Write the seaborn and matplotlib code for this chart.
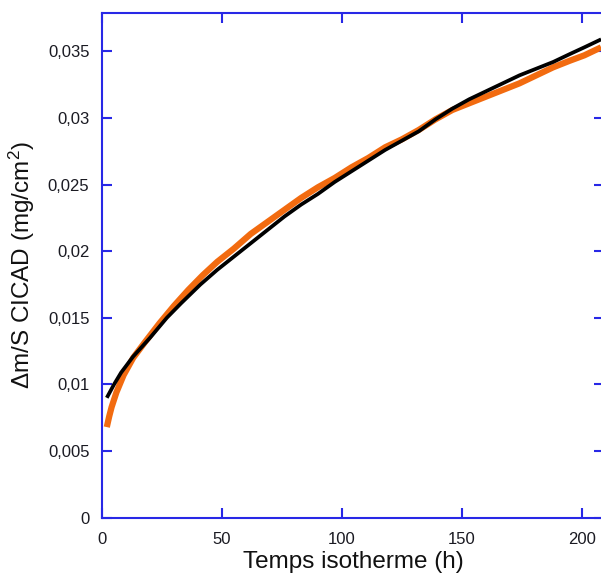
import matplotlib
matplotlib.use("Agg")
import matplotlib.pyplot as plt
import matplotlib.ticker as mticker
import seaborn as sns
import pandas as pd

# Measured data (orange) : time (h), mass gain (mg/cm2)
t_meas = [2, 3, 4, 6, 9, 13, 18, 24, 30, 36, 42, 48, 55, 62, 69, 76, 83, 90, 97,
          104, 111, 118, 125, 132, 139, 146, 153, 160, 167, 174, 181, 188, 195, 201, 208]
y_meas = [0.0068, 0.0076, 0.0083, 0.0094, 0.0107, 0.0120, 0.0132, 0.0146, 0.0159,
          0.0171, 0.0182, 0.0192, 0.0202, 0.0213, 0.0222, 0.0231, 0.0240, 0.0248,
          0.0255, 0.0263, 0.0270, 0.0278, 0.0284, 0.0291, 0.0299, 0.0306, 0.0311,
          0.0316, 0.0321, 0.0326, 0.0332, 0.0338, 0.0343, 0.0347, 0.0353]

# Fitted curve (black)
t_fit = [2, 5, 8, 13, 20, 27, 33, 41, 48, 55, 62, 69, 76, 83, 90, 97, 104, 111,
         118, 125, 132, 139, 146, 153, 160, 167, 174, 181, 188, 195, 201, 208]
y_fit = [0.0090, 0.0100, 0.0109, 0.0121, 0.0135, 0.0150, 0.0161, 0.0175, 0.0186,
         0.0196, 0.0206, 0.0216, 0.0226, 0.0235, 0.0243, 0.0252, 0.0260, 0.0268,
         0.0276, 0.0283, 0.0290, 0.0299, 0.0307, 0.0314, 0.0320, 0.0326, 0.0332,
         0.0337, 0.0342, 0.0348, 0.0353, 0.0359]

x_ticks = [0, 50, 100, 150, 200]
y_ticks = [0, 0.005, 0.01, 0.015, 0.02, 0.025, 0.03, 0.035]

x_label = "Temps isotherme (h)"
y_label = "\u0394m/S CICAD (mg/cm$^2$)"

sns.set_style("white")
plt.rcParams["font.family"] = ["Liberation Sans", "DejaVu Sans"]
plt.rcParams["mathtext.fontset"] = "custom"
plt.rcParams["mathtext.rm"] = "Liberation Sans"
plt.rcParams["mathtext.it"] = "Liberation Sans"

df_meas = pd.DataFrame({"t": t_meas, "y": y_meas})
df_fit = pd.DataFrame({"t": t_fit, "y": y_fit})

fig = plt.figure(figsize=(6.01, 5.78), dpi=100)
ax = fig.add_axes([102 / 601, 60.3 / 578, (604 - 102) / 601, (565.3 - 60.3) / 578])

sns.lineplot(data=df_meas, x="t", y="y", ax=ax, color="#F26B10", linewidth=4.5,
             solid_capstyle="butt", sort=False)
sns.lineplot(data=df_fit, x="t", y="y", ax=ax, color="black", linewidth=2.7,
             solid_capstyle="butt", sort=False)

ax.set_xlim(0, 209.2)
ax.set_ylim(0, 0.0379)
ax.set_xticks(x_ticks)
ax.set_yticks(y_ticks)

def fmt(v, pos):
    s = "%g" % round(v, 4)
    return s.replace(".", ",")

ax.yaxis.set_major_formatter(mticker.FuncFormatter(fmt))
ax.xaxis.set_major_formatter(mticker.FuncFormatter(fmt))

blue = "#2828E6"
for sp in ax.spines.values():
    sp.set_visible(True)
    sp.set_color(blue)
    sp.set_linewidth(1.5)

ax.tick_params(axis="both", direction="in", length=7, width=1.5, color=blue,
               top=True, right=True, bottom=True, left=True,
               labelsize=12, labelcolor="#1a1a22")
ax.tick_params(axis="y", pad=9)
ax.tick_params(axis="x", pad=10)

ax.set_xlabel(x_label, fontsize=17.5, labelpad=3, color="#111111")
ax.set_ylabel(y_label, fontsize=17.5, labelpad=8, color="#111111")
ax.grid(False)

fig.savefig("out.png", dpi=100)
